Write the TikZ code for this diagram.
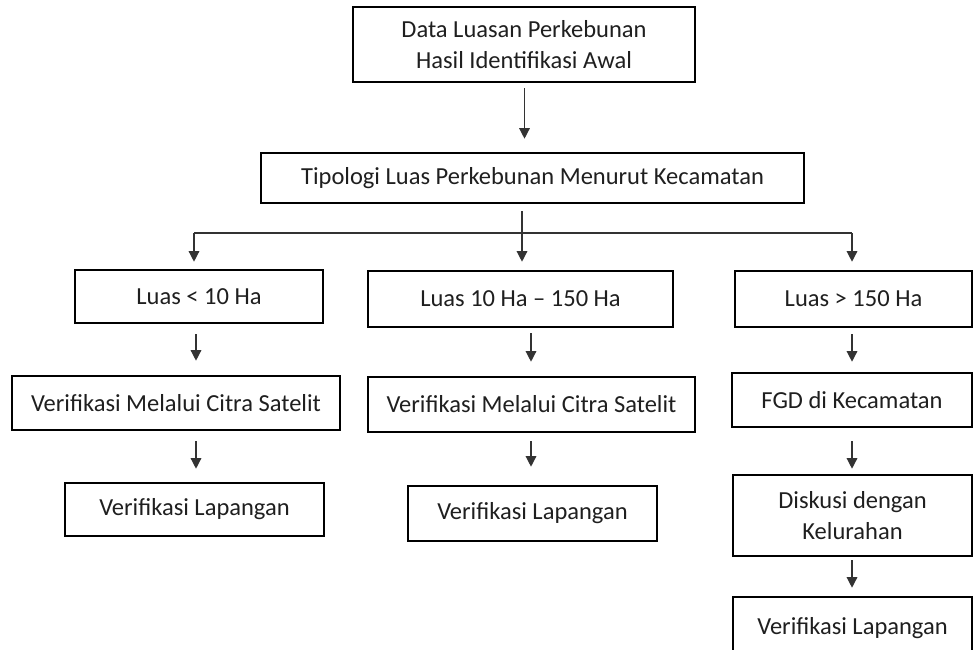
\documentclass[tikz,border=0pt]{standalone}
\usepackage{fontspec}
\setmainfont{Carlito}
\usetikzlibrary{arrows.meta}
\tikzset{
  box/.style={draw=black, line width=2.6pt, inner sep=0pt, align=center,
    font=\fontsize{24.5}{31}\selectfont, text=black!88},
  conn/.style={draw=black!80, line width=1.3pt},
  arr/.style={conn, -{Triangle[width=10.5pt,length=10.5pt]}}
}
\begin{document}
\begin{tikzpicture}[x=1pt,y=-1pt]
\clip (0,0) rectangle (973,649);
\fill[white] (0,0) rectangle (973,649);
% nodes
\node[box, minimum width=342pt, minimum height=75pt] (b1) at (524,44.5) {Data Luasan Perkebunan\\Hasil Identifikasi Awal};
\node[box, minimum width=543pt, minimum height=50pt] (b2) at (532.5,178) {Tipologi Luas Perkebunan Menurut Kecamatan};
\node[box, minimum width=248pt, minimum height=53pt] (b3) at (199,296.5) {Luas < 10 Ha};
\node[box, minimum width=305pt, minimum height=56pt] (b4) at (520.5,299) {Luas 10 Ha -- 150 Ha};
\node[box, minimum width=237pt, minimum height=56pt] (b5) at (853.5,299) {Luas > 150 Ha};
\node[box, minimum width=328pt, minimum height=54pt] (s1) at (176,403) {Verifikasi Melalui Citra Satelit};
\node[box, minimum width=327pt, minimum height=55pt] (s2) at (531.5,404.5) {Verifikasi Melalui Citra Satelit};
\node[box, minimum width=240pt, minimum height=54pt] (f) at (852,400) {FGD di Kecamatan};
\node[box, minimum width=259pt, minimum height=53pt] (l1) at (194.5,509.5) {Verifikasi Lapangan};
\node[box, minimum width=249pt, minimum height=55pt] (l2) at (532.5,513.5) {Verifikasi Lapangan};
\node[box, minimum width=239pt, minimum height=81pt] (d) at (852.5,515.5) {Diskusi dengan\\Kelurahan};
\node[box, minimum width=239pt, minimum height=64pt] (l3) at (852.5,629) {\raisebox{6pt}{Verifikasi Lapangan}};
% helper coordinates
\coordinate (j) at (522,233);
\coordinate (jl) at (194,233);
\coordinate (jr) at (852,233);
\coordinate (cl) at (196,0);
\coordinate (cm) at (531,0);
\coordinate (cr) at (852,0);
\coordinate (ct) at (524.5,0);
% connectors
\draw[arr, shorten <=5pt, shorten >=13pt] (b1.south -| ct) -- (b2.north -| ct);
\draw[conn, shorten <=7pt] (b2.south -| j) -- (j);
\draw[conn] (jl) -- (jr);
\draw[arr, shorten >=7pt] (jl) -- (jl |- b3.north);
\draw[arr, shorten >=8pt] (j) -- (j |- b4.north);
\draw[arr, shorten >=8pt] (jr) -- (jr |- b5.north);
% left column
\draw[arr, shorten <=10pt, shorten >=14pt] (b3.south -| cl) -- (s1.north -| cl);
\draw[arr, shorten <=10pt, shorten >=13pt] (s1.south -| cl) -- (l1.north -| cl);
% middle column
\draw[arr, shorten <=5pt, shorten >=14pt] (b4.south -| cm) -- (s2.north -| cm);
\draw[arr, shorten <=8pt, shorten >=18pt] (s2.south -| cm) -- (l2.north -| cm);
% right column
\draw[arr, shorten <=6pt, shorten >=10pt] (b5.south -| cr) -- (f.north -| cr);
\draw[arr, shorten <=13pt, shorten >=5pt] (f.south -| cr) -- (d.north -| cr);
\draw[arr, shorten <=3pt, shorten >=8pt] (d.south -| cr) -- (l3.north -| cr);
\end{tikzpicture}
\end{document}
